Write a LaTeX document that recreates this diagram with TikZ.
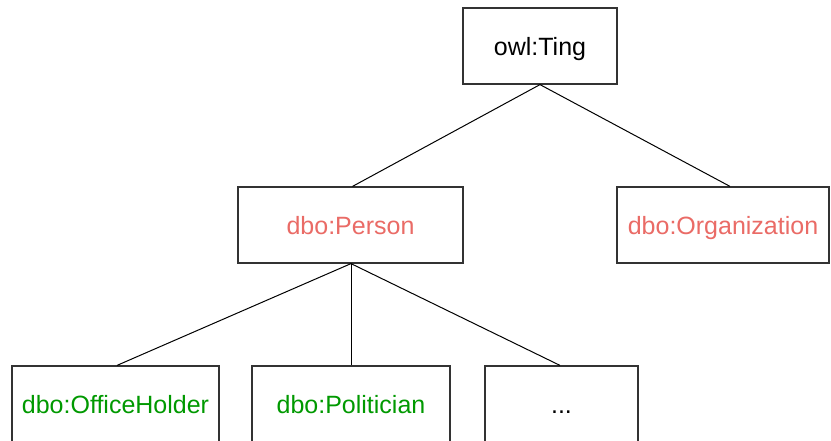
\documentclass[tikz,border=0pt]{standalone}
\usepackage{fontspec}
\setmainfont{Liberation Sans}
\definecolor{redtxt}{HTML}{EA6B66}
\definecolor{greentxt}{HTML}{009900}
\definecolor{boxline}{HTML}{333333}
\begin{document}
\begin{tikzpicture}[x=1pt,y=-1pt,
  box/.style={draw=boxline,line width=1.2pt,fill=white,minimum height=76pt,inner sep=0pt,text height=18pt,text depth=0pt,font=\fontsize{25}{30}\selectfont},
  link/.style={draw=black,line width=1pt}]
\useasboundingbox (0,0) rectangle (831,440);
\node[box,minimum width=154pt] (ting) at (540,46) {owl:Ting};
\node[box,minimum width=225pt,text=redtxt] (person) at (350.5,225) {dbo:Person};
\node[box,minimum width=212pt,text=redtxt] (org) at (723,225) {dbo:Organization};
\node[box,minimum width=207pt,text=greentxt] (office) at (115.5,404) {dbo:OfficeHolder};
\node[box,minimum width=198pt,text=greentxt] (pol) at (351,404) {dbo:Politician};
\node[box,minimum width=153pt] (dots) at (561.5,404) {...};
\draw[link] (ting.south) -- ([xshift=2pt]person.north);
\draw[link] (ting.south) -- ([xshift=7pt]org.north);
\draw[link] ([xshift=0.5pt]person.south) -- ([xshift=1.5pt]office.north);
\draw[link] ([xshift=0.5pt]person.south) -- (pol.north);
\draw[link] ([xshift=0.5pt]person.south) -- ([xshift=-1.5pt]dots.north);
\end{tikzpicture}
\end{document}
